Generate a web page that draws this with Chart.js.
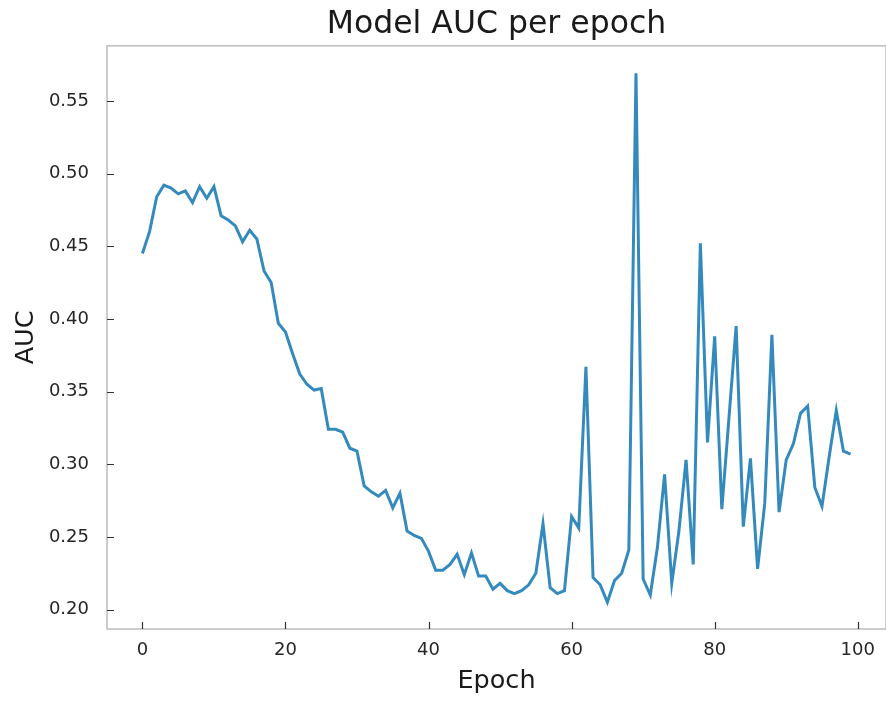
<!DOCTYPE html>
<html>
<head>
<meta charset="utf-8">
<script src="https://cdn.jsdelivr.net/npm/chart.js@4/dist/chart.umd.min.js"></script>
<style>
html,body{margin:0;padding:0;background:#ffffff;}
#wrap{width:886px;height:702px;position:relative;}
</style>
</head>
<body>
<div id="wrap"><canvas id="c" width="886" height="702"></canvas></div>
<script>
const chartTitle = "Model AUC per epoch";
const xAxisTitle = "Epoch";
const yAxisTitle = "AUC";

const aucValues = [
  0.445, 0.460, 0.484, 0.492, 0.490, 0.486, 0.488, 0.480, 0.491, 0.483,
  0.491, 0.471, 0.468, 0.464, 0.453, 0.461, 0.455, 0.433, 0.425, 0.397,
  0.391, 0.376, 0.362, 0.355, 0.351, 0.352, 0.324, 0.324, 0.322, 0.311,
  0.309, 0.285, 0.281, 0.278, 0.282, 0.270, 0.280, 0.254, 0.251, 0.249,
  0.240, 0.227, 0.227, 0.231, 0.238, 0.224, 0.239, 0.223, 0.223, 0.214,
  0.218, 0.213, 0.211, 0.213, 0.217, 0.225, 0.259, 0.215, 0.211, 0.213,
  0.264, 0.256, 0.367, 0.222, 0.217, 0.205, 0.220, 0.225, 0.241, 0.569,
  0.221, 0.210, 0.243, 0.293, 0.218, 0.254, 0.303, 0.231, 0.452, 0.315,
  0.388, 0.269, 0.332, 0.395, 0.257, 0.304, 0.228, 0.273, 0.389, 0.267,
  0.303, 0.314, 0.335, 0.340, 0.284, 0.271, 0.305, 0.337, 0.309, 0.307
];

const xTickValues = [0, 20, 40, 60, 80, 100];
const yTickValues = [0.20, 0.25, 0.30, 0.35, 0.40, 0.45, 0.50, 0.55];

const xRange = [-4.95, 103.95];
const yRange = [0.1866, 0.5879];

const FONT = "'DejaVu Sans', sans-serif";

const framePlugin = {
  id: 'frame',
  afterDraw(chart) {
    const ctx = chart.ctx;
    const a = chart.chartArea;
    const xs = chart.scales.x, ys = chart.scales.y;
    ctx.save();
    ctx.strokeStyle = '#bcbcbc';
    ctx.lineWidth = 1.5;
    ctx.strokeRect(a.left, a.top, a.right - a.left, a.bottom - a.top);
    ctx.strokeStyle = '#333333';
    ctx.lineWidth = 1.2;
    ctx.beginPath();
    xs.ticks.forEach(t => {
      const px = Math.round(xs.getPixelForValue(t.value)) + 0.5;
      ctx.moveTo(px, a.bottom);
      ctx.lineTo(px, a.bottom - 7);
    });
    ys.ticks.forEach(t => {
      const py = Math.round(ys.getPixelForValue(t.value)) + 0.5;
      ctx.moveTo(a.left, py);
      ctx.lineTo(a.left + 7, py);
    });
    ctx.stroke();
    ctx.restore();
  }
};

new Chart(document.getElementById('c'), {
  type: 'line',
  data: {
    datasets: [{
      label: 'AUC',
      data: aucValues.map((v, i) => ({ x: i, y: v })),
      borderColor: '#348ABD',
      backgroundColor: '#348ABD',
      borderWidth: 3,
      pointRadius: 0,
      tension: 0,
      fill: false
    }]
  },
  options: {
    responsive: false,
    animation: false,
    devicePixelRatio: 1,
    layout: { padding: { left: 0, right: 0, top: 0, bottom: 0 } },
    plugins: {
      legend: { display: false },
      tooltip: { enabled: false },
      title: {
        display: true,
        fullSize: false,
        text: chartTitle,
        color: '#1a1a1a',
        font: { family: FONT, size: 31.5, weight: 'normal' },
        padding: { top: 6, bottom: 2 }
      }
    },
    scales: {
      x: {
        type: 'linear',
        min: xRange[0],
        max: xRange[1],
        afterBuildTicks: s => { s.ticks = xTickValues.map(v => ({ value: v })); },
        afterFit: s => { s.height = 73; },
        grid: { display: false, drawTicks: false },
        border: { display: false },
        ticks: {
          color: '#262626',
          font: { family: FONT, size: 18 },
          padding: 11,
          maxRotation: 0,
          callback: v => String(v)
        },
        title: {
          display: true,
          text: xAxisTitle,
          color: '#1a1a1a',
          font: { family: FONT, size: 25.5 },
          padding: { top: 0, bottom: 5 }
        }
      },
      y: {
        type: 'linear',
        min: yRange[0],
        max: yRange[1],
        afterBuildTicks: s => { s.ticks = yTickValues.map(v => ({ value: v })); },
        afterFit: s => { s.width = 107; },
        grid: { display: false, drawTicks: false },
        border: { display: false },
        ticks: {
          color: '#262626',
          font: { family: FONT, size: 18 },
          padding: 18,
          callback: v => Number(v).toFixed(2)
        },
        title: {
          display: true,
          text: yAxisTitle,
          color: '#1a1a1a',
          font: { family: FONT, size: 25.5 },
          padding: { top: 11, bottom: 0 }
        }
      }
    }
  },
  plugins: [framePlugin]
});
</script>
</body>
</html>
